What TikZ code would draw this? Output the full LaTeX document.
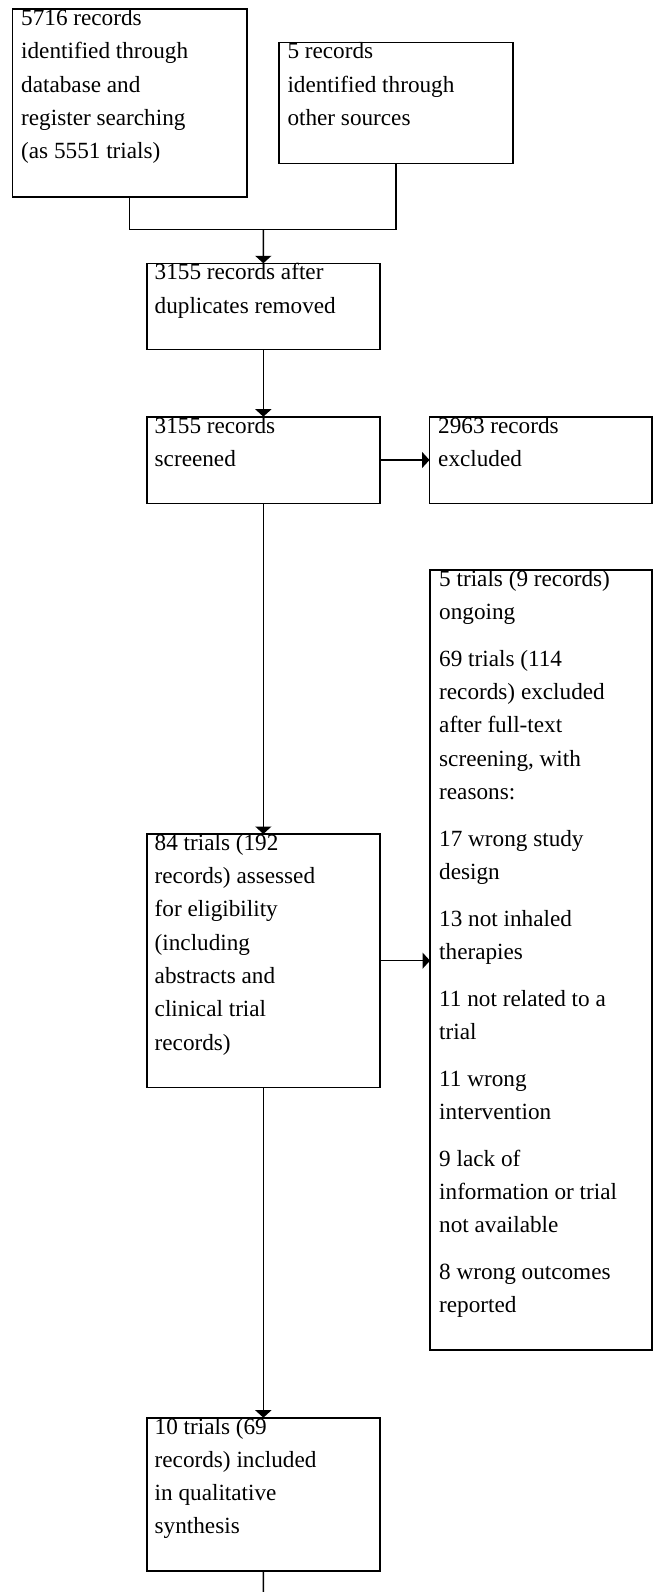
\documentclass[tikz,border=0pt]{standalone}
\usepackage{fontspec}
\setmainfont{Liberation Serif}
\usetikzlibrary{arrows.meta, positioning, calc}

\tikzset{
  box/.style = {draw, line width=1.6pt, inner sep=0pt, outer sep=0pt, anchor=north west},
  boxtext/.style = {inner sep=0pt, anchor=north west, align=left, font=\fontsize{23.2}{33.3}\selectfont},
  link/.style = {line width=1.6pt},
  arrow/.style = {link, -{Triangle[length=7.5pt, width=16pt]}}
}

\begin{document}
\begin{tikzpicture}[x=1pt, y=-1pt]
  \path [use as bounding box, draw=none] (0,0) rectangle (653,1592);
  % boxes
  \node[box, minimum width=234.4pt, minimum height=187.4pt] (database) at (12.3,9.3) {};
  \node[box, minimum width=233.7pt, minimum height=120.6pt] (others) at (279,42.7) {};
  \node[box, minimum width=233.3pt, minimum height=86pt] (dedup) at (146.7,263.3) {};
  \node[box, minimum width=233.3pt, minimum height=86.6pt] (screened) at (146.7,416.7) {};
  \node[box, minimum width=222.6pt, minimum height=86.6pt] (excluded) at (429.5,416.7) {};
  \node[box, minimum width=222.1pt, minimum height=780pt] (reasons) at (430,570) {};
  \node[box, minimum width=233.3pt, minimum height=253.3pt] (eligible) at (146.7,834) {};
  \node[box, minimum width=233.3pt, minimum height=153.3pt] (included) at (146.7,1417.7) {};
  % texts
  \node[boxtext] (database-t) at ([xshift=8.7pt]database.north west) {5716 records\\identified through\\database and\\register searching\\(as 5551 trials)};
  \node[boxtext] (others-t) at ([xshift=8.3pt]others.north west) {5 records\\identified through\\other sources};
  \node[boxtext] (dedup-t) at ([xshift=7.8pt]dedup.north west) {3155 records after\\duplicates removed};
  \node[boxtext] (screened-t) at ([xshift=7.8pt]screened.north west) {3155 records\\screened};
  \node[boxtext] (excluded-t) at ([xshift=8.5pt]excluded.north west) {2963 records\\excluded};
  \node[boxtext] (eligible-t) at ([xshift=7.8pt]eligible.north west) {84 trials (192\\records) assessed\\for eligibility\\(including\\abstracts and\\clinical trial\\records)};
  \node[boxtext] (reasons-t) at ([xshift=9pt]reasons.north west) {5 trials (9 records)\\ongoing\\[13.4pt]
    69 trials (114\\records) excluded\\after full-text\\screening, with\\reasons:\\[13.4pt]
    17 wrong study\\design\\[13.4pt]
    13 not inhaled\\therapies\\[13.4pt]
    11 not related to a\\trial\\[13.4pt]
    11 wrong\\intervention\\[13.4pt]
    9 lack of\\information or trial\\not available\\[13.4pt]
    8 wrong outcomes\\reported};
  \node[boxtext] (included-t) at ([xshift=7.8pt]included.north west) {10 trials (69\\records) included\\in qualitative\\synthesis};
  % connectors
  \coordinate (merge) at (263.3,229.3);
  \coordinate (bottom) at (263.3,1592);
  \draw[link] (database.south) |- (merge) -| (others.south);
  \draw[arrow] (merge) -- (dedup.north);
  \draw[arrow] (dedup.south) -- (screened.north);
  \draw[arrow] (screened.east) -- (excluded.west);
  \draw[arrow] (screened.south) -- (eligible.north);
  \draw[arrow] (eligible.east) -- (eligible.east -| reasons.west);
  \draw[arrow] (eligible.south) -- (included.north);
  \draw[link] (included.south) -- (bottom);
\end{tikzpicture}
\end{document}
